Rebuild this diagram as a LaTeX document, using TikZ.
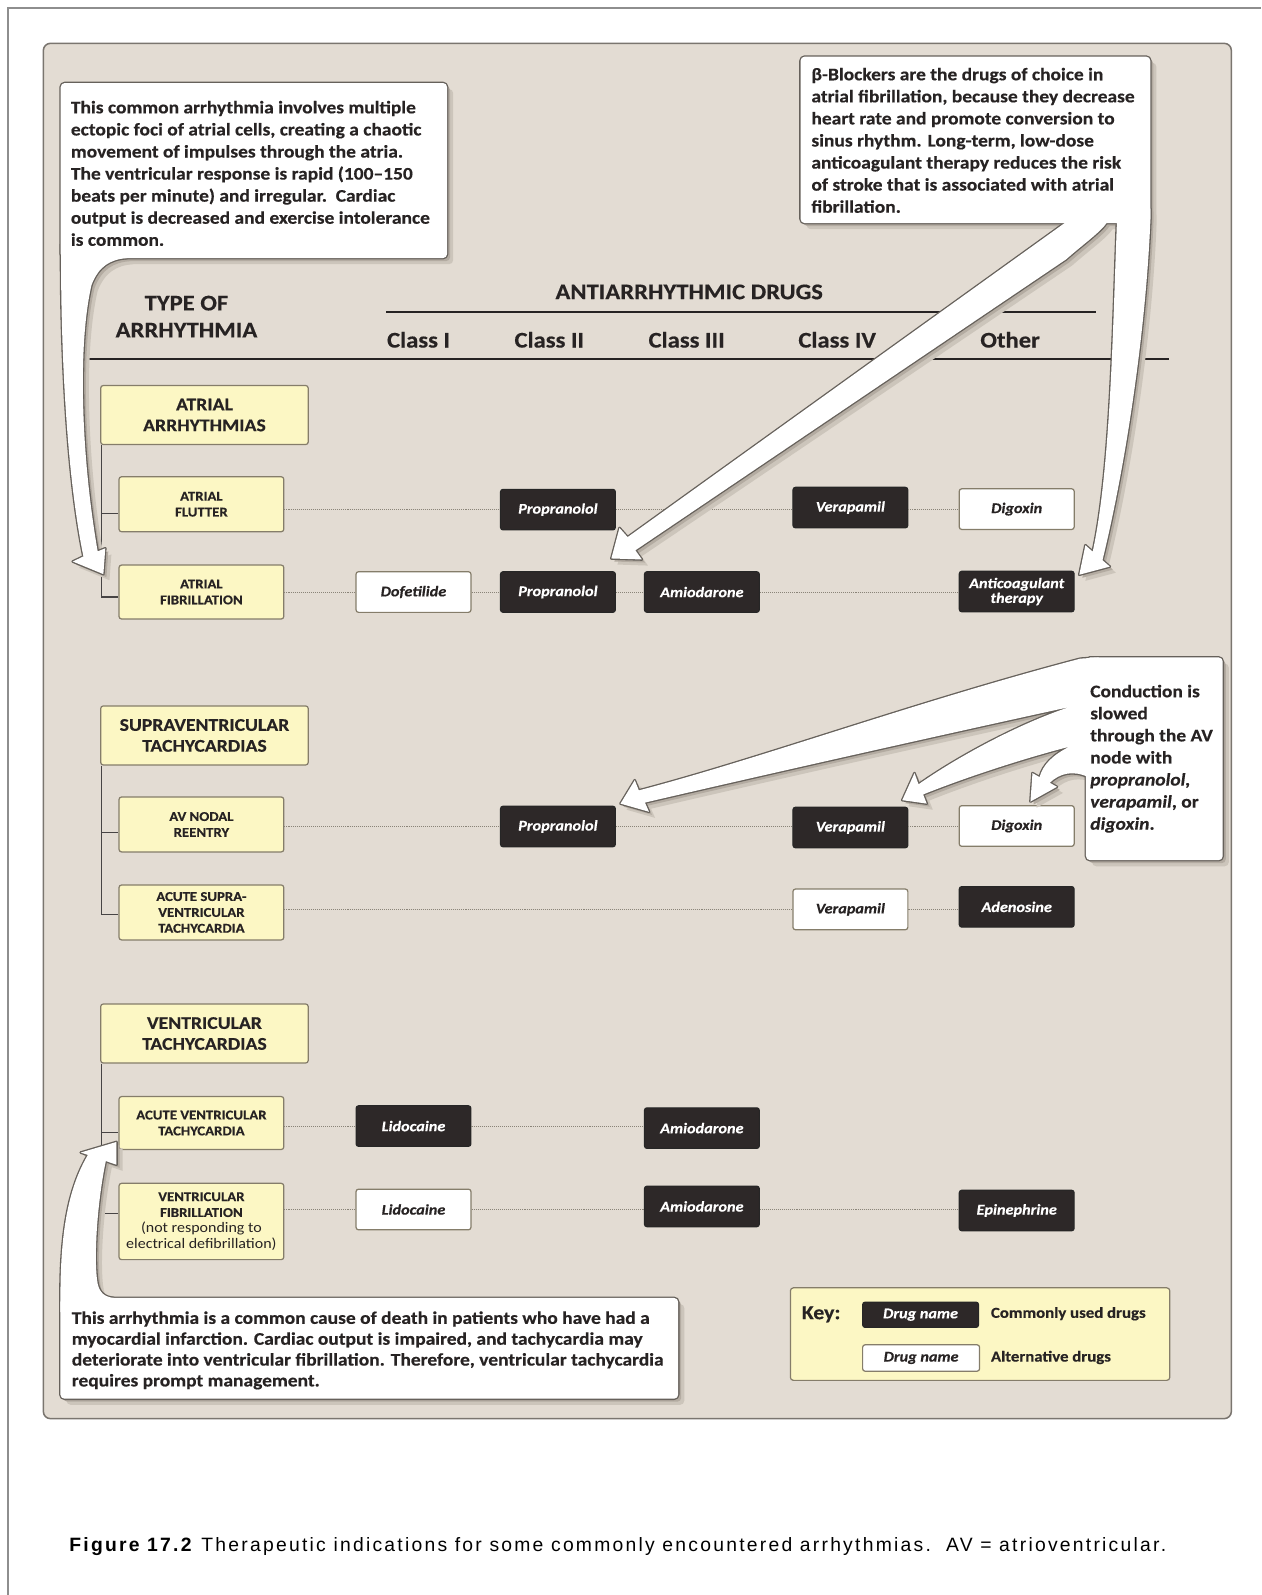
\documentclass[tikz,border=0pt]{standalone}
\usepackage{fontspec}
\setmainfont[FakeStretch=1.1,
  BoldFeatures={FakeBold=0.4},
  BoldItalicFeatures={FakeBold=0.4}]{Carlito}
\newfontfamily\capfont[LetterSpace=11.6]{Liberation Sans}
\newcommand{\myfs}[2]{\fontsize{#1}{#2}\selectfont}

\definecolor{panelbg}{HTML}{E3DCD3}
\definecolor{panelline}{HTML}{7A756F}
\definecolor{framegray}{HTML}{8E8E8E}
\definecolor{ink}{HTML}{272323}
\definecolor{yellowbox}{HTML}{FCF7C4}
\definecolor{yellowline}{HTML}{857D6A}
\definecolor{darkbox}{HTML}{2D2828}
\definecolor{dotgray}{HTML}{8A8478}
\definecolor{callline}{HTML}{66615B}
\definecolor{shadowA}{HTML}{B3ABA1}
\definecolor{shadowB}{HTML}{CCC5BB}

\tikzset{
  headtxt/.style={font=\myfs{22}{26}\bfseries, text=ink, inner sep=0},
  grpbox/.style={draw=yellowline, fill=yellowbox, line width=1.2, rounded corners=2.5,
    minimum width=204, minimum height=58, align=center, inner sep=0,
    font=\myfs{17.6}{20.5}\bfseries, text=ink},
  subbox/.style={draw=yellowline, fill=yellowbox, line width=1.2, rounded corners=2.5,
    minimum width=162, minimum height=53, align=center, inner sep=0,
    font=\myfs{13.2}{15.6}\bfseries, text=ink},
  drugd/.style={draw=black!85, fill=darkbox, line width=1, rounded corners=2.5,
    minimum width=113, minimum height=40, align=center, inner sep=0,
    font=\myfs{14.5}{14.5}\bfseries\itshape, text=white},
  drugw/.style={draw=yellowline, fill=white, line width=1.2, rounded corners=2.5,
    minimum width=113, minimum height=40, align=center, inner sep=0,
    font=\myfs{14.5}{14.5}\bfseries\itshape, text=ink},
  dotline/.style={draw=dotgray, line width=1, densely dotted},
  treeline/.style={draw=ink!85, line width=1.3},
  headline/.style={draw=ink, line width=2.5},
  calltext/.style={font=\myfs{17.4}{21.7}\bfseries, text=ink, align=left, inner sep=0, anchor=north west},
  keytext/.style={font=\myfs{15}{18}\bfseries, text=ink, inner sep=0, anchor=west},
}

\newcommand{\calloutpaths}[1]{%
  % callout 1 (top left)
  \path[#1,rounded corners=4] (59.7,81.6) rectangle (439.5,253.7);
  \path[#1] (60,240) -- (60,254) .. controls (60,330) and (64,460) .. (82,547)
     -- (71.5,552) -- (101.6,564.4) -- (103.5,539) -- (96,542)
     .. controls (80,450) and (76,340) .. (90,280)
     .. controls (97,262) and (108,255) .. (125,253.7) -- (125,240) -- cycle;
  % callout 2 (top right)
  \path[#1,rounded corners=4] (787,55.7) rectangle (1130.8,219.3);
  \path[#1] (1052,205) -- (1047,219) -- (617,528) -- (609,519) -- (601,549) -- (631,550)
     -- (624.6,541) -- (1048,255) .. controls (1065,240) and (1082,228) .. (1088,219)
     -- (1088,205) -- cycle;
  \path[#1] (1098,205) -- (1098,219) .. controls (1094,320) and (1092,460) .. (1074.2,542.3)
     -- (1067,536) -- (1061,565) -- (1091,557) -- (1083.8,550.7)
     .. controls (1106,460) and (1126,330) .. (1130.8,219) -- (1130.8,205) -- cycle;
  % callout 3 (right)
  \path[#1,rounded corners=4] (1067.6,646.3) rectangle (1202,845.6);
  \path[#1] (1080,646.3) -- (1062,647.5) .. controls (900,690) and (750,745) .. (628,777)
     -- (624,767) -- (610,790) -- (638,798) -- (634,789)
     .. controls (780,755) and (960,715) .. (1051.5,695)
     .. controls (1000,712) and (940,745) .. (903,771)
     -- (899,760) -- (887,786.6) -- (911,790) -- (907.5,781)
     .. controls (960,760) and (1020,742) .. (1051.5,734)
     .. controls (1035,742) and (1025,752) .. (1022,764)
     -- (1015,760) -- (1013,788) -- (1039,773.5) -- (1032,769.5)
     .. controls (1042,760) and (1055,757) .. (1070,764)
     -- (1080,764) -- cycle;
  % callout 4 (bottom)
  \path[#1,rounded corners=4] (59.4,1276) rectangle (666.7,1375);
  \path[#1] (59.4,1290) -- (59.4,1276) .. controls (59.4,1215) and (66,1170) .. (86.4,1135.4)
     -- (79.4,1133) -- (114.5,1122.6) -- (114.5,1145) -- (104,1141.4)
     .. controls (95,1185) and (92,1240) .. (96,1262)
     .. controls (98,1271) and (103,1275) .. (112,1276) -- (112,1290) -- cycle;
}

\begin{document}
\begin{tikzpicture}[x=1pt,y=-1pt]
\useasboundingbox (0,0) rectangle (1240,1568);
\fill[white] (0,0) rectangle (1240,1568);
\draw[framegray,line width=1.8] (8.2,1568) -- (8.2,8.2) -- (1240,8.2);
\draw[panelline,fill=panelbg,line width=1.5,rounded corners=7] (42.6,42.6) rectangle (1210.5,1394.6);

% header
\node[headtxt] (typeof) at (183.3,298) {TYPE OF};
\node[headtxt] (arrh) at (183.3,324.5) {ARRHYTHMIA};
\node[headtxt] (antiarr) at (677.5,287) {ANTIARRHYTHMIC DRUGS};
\node[headtxt] (c1) at (411.5,334) {Class I};
\node[headtxt] (c2) at (540,334) {Class II};
\node[headtxt] (c3) at (675,334) {Class III};
\node[headtxt] (c4) at (823,334) {Class IV};
\node[headtxt] (c5) at (993,334) {Other};
\draw[headline] (379.6,306.5) -- (1077.6,306.5);
\draw[headline] (84.5,353) -- (1149,353);

% arrhythmia boxes
\node[grpbox] (atrial) at (201,408) {ATRIAL\\ARRHYTHMIAS};
\node[subbox, minimum height=54] (flutter) at (198,495.7) {ATRIAL\\FLUTTER};
\node[subbox] (fib) at (198,582) {ATRIAL\\FIBRILLATION};
\node[grpbox] (svt) at (201,723) {SUPRAVENTRICULAR\\TACHYCARDIAS};
\node[subbox, minimum height=54] (avn) at (198,810.5) {AV NODAL\\REENTRY};
\node[subbox, minimum height=54] (asvt) at (198,897) {ACUTE SUPRA-\\VENTRICULAR\\TACHYCARDIA};
\node[grpbox] (vt) at (201,1016) {VENTRICULAR\\TACHYCARDIAS};
\node[subbox, minimum height=52] (avt) at (198,1104) {ACUTE VENTRICULAR\\TACHYCARDIA};
\node[subbox, minimum height=75] (vf) at (198,1200.8) {VENTRICULAR\\FIBRILLATION\\{\mdseries\myfs{14.3}{15.6}(not responding to}\\{\mdseries\myfs{14.3}{15.6}electrical defibrillation)}};

% tree lines
\draw[treeline] ([xshift=1.5pt]atrial.south west) |- ([yshift=-9pt]flutter.west);
\draw[treeline] ([xshift=1.5pt]atrial.south west) |- ([yshift=-5pt]fib.west);
\draw[treeline] ([xshift=1.5pt]svt.south west) |- ([yshift=-8pt]avn.west);
\draw[treeline] ([xshift=1.5pt]svt.south west) |- ([yshift=-2pt]asvt.west);
\draw[treeline] ([xshift=1.5pt]vt.south west) |- ([yshift=-9pt]avt.west);
\draw[treeline] ([xshift=1.5pt]vt.south west) |- ([yshift=8pt]vf.west);

% drugs
\node[drugd] (flP) at (548.5,501) {Propranolol};
\node[drugd] (flV) at (836,499) {Verapamil};
\node[drugw] (flD) at (999.5,500.5) {Digoxin};
\node[drugw] (fiDo) at (406.5,582) {Dofetilide};
\node[drugd] (fiP) at (548.5,582) {Propranolol};
\node[drugd] (fiA) at (690,582) {Amiodarone};
\node[drugd] (fiAc) at (999.5,581.5) {Anticoagulant\\therapy};
\node[drugd] (avP) at (548.5,812.5) {Propranolol};
\node[drugd] (avV) at (836,813.5) {Verapamil};
\node[drugw] (avD) at (999.5,812) {Digoxin};
\node[drugw] (asV) at (836,894) {Verapamil};
\node[drugd] (asAd) at (999.5,891.5) {Adenosine};
\node[drugd] (atL) at (406.5,1107) {Lidocaine};
\node[drugd] (atA) at (690,1109) {Amiodarone};
\node[drugw] (vfL) at (406.5,1189) {Lidocaine};
\node[drugd] (vfA) at (690,1186) {Amiodarone};
\node[drugd] (vfE) at (999.5,1190) {Epinephrine};

% dotted row connectors
\draw[dotline] (flutter.east |- flP.west) -- (flP.west);
\draw[dotline] (flP.east) -- (flV.west |- flP.east);
\draw[dotline] (flV.east |- flP.east) -- (flD.west |- flP.east);
\draw[dotline] (fib.east |- fiDo.west) -- (fiDo.west);
\draw[dotline] (fiDo.east) -- (fiP.west);
\draw[dotline] (fiP.east) -- (fiA.west);
\draw[dotline] (fiA.east) -- (fiAc.west |- fiA.east);
\draw[dotline] (avn.east |- avP.west) -- (avP.west);
\draw[dotline] (avP.east) -- (avV.west |- avP.east);
\draw[dotline] (avV.east |- avP.east) -- (avD.west |- avP.east);
\draw[dotline] (asvt.east |- asV.west) -- (asV.west);
\draw[dotline] (asV.east) -- (asAd.west |- asV.east);
\draw[dotline] (avt.east |- atL.west) -- (atL.west);
\draw[dotline] (atL.east) -- (atA.west |- atL.east);
\draw[dotline] (vf.east |- vfL.west) -- (vfL.west);
\draw[dotline] (vfL.east) -- (vfA.west |- vfL.east);
\draw[dotline] (vfA.east |- vfL.east) -- (vfE.west |- vfL.east);

% key
\node[draw=yellowline, fill=yellowbox, line width=1.2, rounded corners=3,
  minimum width=373, minimum height=91, inner sep=0] (keybox) at (963.5,1311.5) {};
\node[font=\myfs{19.5}{22}\bfseries, text=ink, inner sep=0, anchor=west] (keylbl) at (788,1292) {Key:};
\node[drugd, minimum width=114, minimum height=25] (keyd) at (905,1292.5) {Drug name};
\node[drugw, minimum width=115, minimum height=26] (keyw) at (905.5,1335) {Drug name};
\node[keytext] (keyc) at (974,1291.5) {Commonly used drugs};
\node[keytext] (keya) at (974,1334.5) {Alternative drugs};

% callouts: shadows, outlines, fills
\begin{scope}[xshift=6pt,yshift=-6pt]
  \calloutpaths{fill=shadowB}
\end{scope}
\begin{scope}[xshift=3pt,yshift=-3pt]
  \calloutpaths{fill=shadowA}
\end{scope}
\calloutpaths{draw=callline,line width=2.6,line join=round}
\calloutpaths{fill=white}

\node[calltext] (t1) at (69.5,99) {This common arrhythmia involves multiple\\
ectopic foci of atrial cells, creating a chaotic\\
movement of impulses through the atria.\\
The ventricular response is rapid (100--150\\
beats per minute) and irregular.\ \ Cardiac\\
output is decreased and exercise intolerance\\
is common.};
\node[calltext] (t2) at (797.5,66.5) {β-Blockers are the drugs of choice in\\
atrial fibrillation, because they decrease\\
heart rate and promote conversion to\\
sinus rhythm. Long-term, low-dose\\
anticoagulant therapy reduces the risk\\
of stroke that is associated with atrial\\
fibrillation.};
\node[calltext] (t3) at (1071.6,673) {Conduction is\\
slowed\\
through the AV\\
node with\\
\textit{propranolol,}\\
\textit{verapamil}, or\\
\textit{digoxin}.};
\node[calltext, font=\myfs{17.4}{20.5}\bfseries] (t4) at (70.4,1289) {This arrhythmia is a common cause of death in patients who have had a\\
myocardial infarction. Cardiac output is impaired, and tachycardia may\\
deteriorate into ventricular fibrillation. Therefore, ventricular tachycardia\\
requires prompt management.};

% caption
\node[anchor=base west, inner sep=0, text=black, font=\capfont\myfs{19}{22}] (caption) at (68,1525)
  {\textbf{Figure 17.2} Therapeutic indications for some commonly encountered arrhythmias.\ \ AV = atrioventricular.};
\end{tikzpicture}
\end{document}
